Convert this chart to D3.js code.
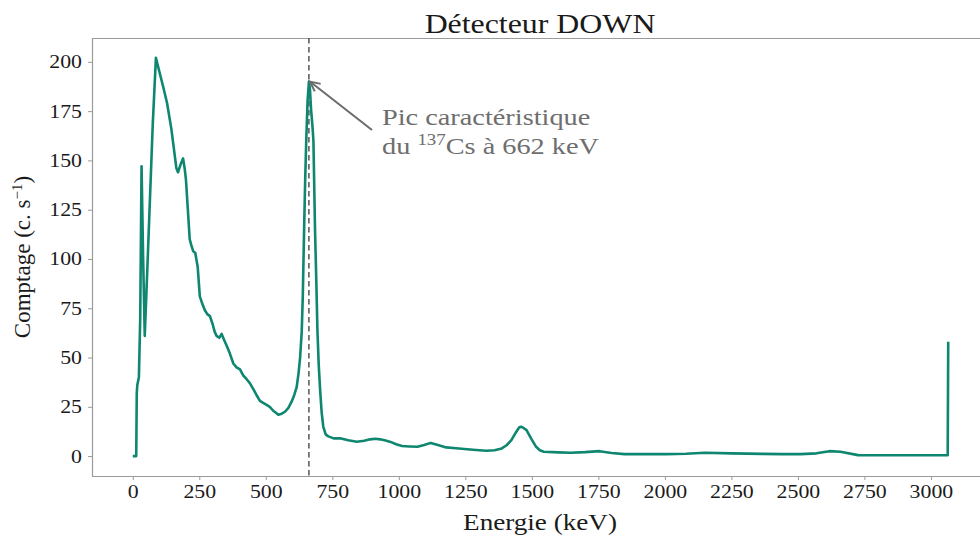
<!DOCTYPE html>
<html><head><meta charset="utf-8">
<script src="https://cdn.jsdelivr.net/npm/d3@7"></script>
<style>
body{margin:0;background:#fff}
text{font-family:"Liberation Serif","Times New Roman",serif}
</style>
</head><body>
<svg id="c" width="980" height="536"></svg>
<script>
// ---- data ----
const energy = [
  0,13,15,17,23,28,33,39,45,55,
  65,75,87,100,115,129,145,164,170,180,
  189,195,200,207,214,220,227,235,244,252,
  262,271,280,290,300,308,315,325,334,343,
  353,365,378,390,403,415,428,440,453,465,
  478,490,503,515,528,538,547,560,572,585,
  597,607,616,623,629,635,639,644,648,652,
  657,662,666,670,675,679,685,690,694,699,
  704,710,716,725,735,755,779,810,842,870,
  892,912,930,950,969,990,1012,1040,1070,1095,
  1120,1150,1178,1215,1257,1290,1329,1360,1387,1405,
  1423,1440,1452,1459,1466,1480,1497,1516,1530,1545,
  1600,1646,1700,1754,1800,1848,1930,2006,2080,2150,
  2250,2366,2440,2510,2570,2618,2660,2726,2850,2950,
  3063,3065];
const counts = [
  0,0,32,36,40,70,147,100,61,96,
  132,168,202,195,187,179,166,146,144,148,
  151,146,140,125,110,107,104,103,96,81,
  77,74,72,71,67,63,61,60,62,59,
  56,52,47,45,44,41,39,37,34,31,
  28,27,26,25,23,22,21,21.5,22.5,24.5,
  27.6,31,35,42,50,63,81,115,140,160,
  180,190,186,176,168,160,115,88,64,46,
  34,22,15,11,10,9,9,8,7.3,7.8,
  8.5,8.8,8.5,7.9,7.2,6,5.1,4.9,4.7,5.6,
  6.7,5.5,4.4,4,3.5,3.1,2.7,3,3.9,5.5,
  8.1,12,14.5,14.9,14.5,13.2,9,4.7,3,2.2,
  1.9,1.7,2,2.5,1.6,1.0,1.0,1.0,1.2,1.7,
  1.4,1.1,1.0,1.0,1.4,2.5,2.2,0.5,0.4,0.4,
  0.4,58];
const xTicks = [0,250,500,750,1000,1250,1500,1750,2000,2250,2500,2750,3000];
const yTicks = [0,25,50,75,100,125,150,175,200];
const titleText = "Détecteur DOWN";
const xLabelText = "Energie (keV)";
const peakEnergy = 662, peakCount = 190;

// ---- layout ----
const SX = 1.18; // horizontal stretch of the glyphs in the reference
const M = {left: 92, right: 989, top: 38, bottom: 476};
const svg = d3.select("#c");

const xExt = d3.extent(energy), xPad = (xExt[1] - xExt[0]) * 0.05;
const x = d3.scaleLinear().domain([xExt[0] - xPad, xExt[1] + xPad]).range([M.left, M.right]);
const yExt = d3.extent(counts), yPad = (yExt[1] - yExt[0]) * 0.05;
const y = d3.scaleLinear().domain([yExt[0] - yPad, yExt[1] + yPad]).range([M.bottom, M.top]);

function label(px, py, size, anchor, fill, rot) {
  const g = svg.append("g").attr("transform", `translate(${px},${py})` + (rot ? ` rotate(${rot})` : "") + (rot ? "" : ` scale(${SX},1)`));
  return g.append("text").attr("text-anchor", anchor).attr("font-size", size).attr("fill", fill);
}

// axes
const xAxis = svg.append("g").attr("transform", `translate(0,${M.bottom})`)
  .call(d3.axisBottom(x).tickValues(xTicks).tickSize(4).tickPadding(5).tickFormat(d3.format("d")));
const yAxis = svg.append("g").attr("transform", `translate(${M.left},0)`)
  .call(d3.axisLeft(y).tickValues(yTicks).tickSize(4).tickPadding(6).tickFormat(d3.format("d")));
[xAxis, yAxis].forEach(a => {
  a.select(".domain").remove();
  a.selectAll(".tick line").attr("stroke", "#9a9a9a");
  a.selectAll(".tick text").attr("font-size", 18.5).attr("fill", "#1a1a1a")
    .attr("font-family", '"Liberation Serif", serif');
});
xAxis.selectAll(".tick text").attr("transform", `scale(${SX},1)`);
yAxis.selectAll(".tick text").each(function () {
  const t = d3.select(this); const x0 = +t.attr("x");
  t.attr("x", x0 / SX).attr("transform", `scale(${SX},1)`);
});

// spines (top, left, bottom)
const spine = "#9a9a9a";
svg.append("line").attr("x1", M.left).attr("x2", M.right).attr("y1", M.top + 0.5).attr("y2", M.top + 0.5).attr("stroke", spine).attr("stroke-width", 1.2);
svg.append("line").attr("x1", M.left).attr("x2", M.right).attr("y1", M.bottom + 0.5).attr("y2", M.bottom + 0.5).attr("stroke", spine).attr("stroke-width", 1.2);
svg.append("line").attr("x1", M.left + 0.5).attr("x2", M.left + 0.5).attr("y1", M.top).attr("y2", M.bottom).attr("stroke", spine).attr("stroke-width", 1.2);

// dashed vertical marker
svg.append("line").attr("x1", x(peakEnergy)).attr("x2", x(peakEnergy))
  .attr("y1", M.top).attr("y2", M.bottom)
  .attr("stroke", "#555").attr("stroke-width", 1.5).attr("stroke-dasharray", "5.5,3.5");

// spectrum line
const pts = energy.map((e, i) => [e, counts[i]]);
svg.append("path").datum(pts)
  .attr("d", d3.line().x(d => x(d[0])).y(d => y(d[1])))
  .attr("fill", "none").attr("stroke", "#0e8670").attr("stroke-width", 2.6)
  .attr("stroke-linejoin", "round");

// annotation arrow
const tipX = x(peakEnergy) + 1, tipY = y(peakCount);
const tailX = 372, tailY = 130;
svg.append("line").attr("x1", tailX).attr("y1", tailY).attr("x2", tipX).attr("y2", tipY)
  .attr("stroke", "#6b6b6b").attr("stroke-width", 2);
const ang = Math.atan2(tailY - tipY, tailX - tipX), L = 11, sp = 0.45;
svg.append("path")
  .attr("d", `M${tipX + L * Math.cos(ang - sp)},${tipY + L * Math.sin(ang - sp)} L${tipX},${tipY} L${tipX + L * Math.cos(ang + sp)},${tipY + L * Math.sin(ang + sp)}`)
  .attr("fill", "none").attr("stroke", "#6b6b6b").attr("stroke-width", 2);

// annotation text
label(382, 125, 24, "start", "#6e6e6e").text("Pic caractéristique");
const t2 = label(382, 154, 24, "start", "#6e6e6e");
t2.append("tspan").text("du ");
t2.append("tspan").attr("font-size", 16).attr("dy", -9).text("137");
t2.append("tspan").attr("dy", 9).text("Cs à 662 keV");

// title and axis labels
label(540, 33, 27, "middle", "#1a1a1a").text(titleText);
label(540, 530, 23, "middle", "#1a1a1a").text(xLabelText);
const yl = label(30, 257, 23, "middle", "#1a1a1a", -90);
yl.append("tspan").text("Comptage (c. s");
yl.append("tspan").attr("font-size", 15).attr("dy", -8).text("−1");
yl.append("tspan").attr("dy", 8).text(")");
</script>
</body></html>
